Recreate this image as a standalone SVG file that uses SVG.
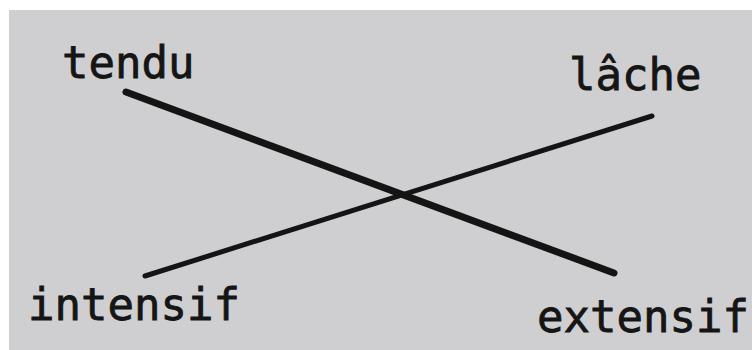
<svg xmlns="http://www.w3.org/2000/svg" width="752" height="350" viewBox="0 0 752 350">
<style>
.lbl{font-family:"DejaVu Sans Mono","Liberation Mono",monospace;font-size:44px;fill:#151515;stroke:#151515;stroke-width:0.8}
.ln{stroke:#141414;stroke-linecap:round;fill:none}
</style>
<rect x="0" y="0" width="752" height="350" fill="#ffffff"/>
<rect x="9" y="10" width="743" height="340" fill="#cfcfd1"/>
<g id="connectors">
<line class="ln" x1="126" y1="92" x2="614" y2="273" stroke-width="7"/>
<line class="ln" x1="145" y1="276" x2="652" y2="116" stroke-width="5"/>
</g>
<g id="tendu"><text class="lbl" x="62" y="78">tendu</text></g>
<g id="lache"><text class="lbl" x="569" y="90">lâche</text></g>
<g id="intensif"><text class="lbl" x="28" y="320">intensif</text></g>
<g id="extensif"><text class="lbl" x="537" y="332">extensif</text></g>
</svg>
